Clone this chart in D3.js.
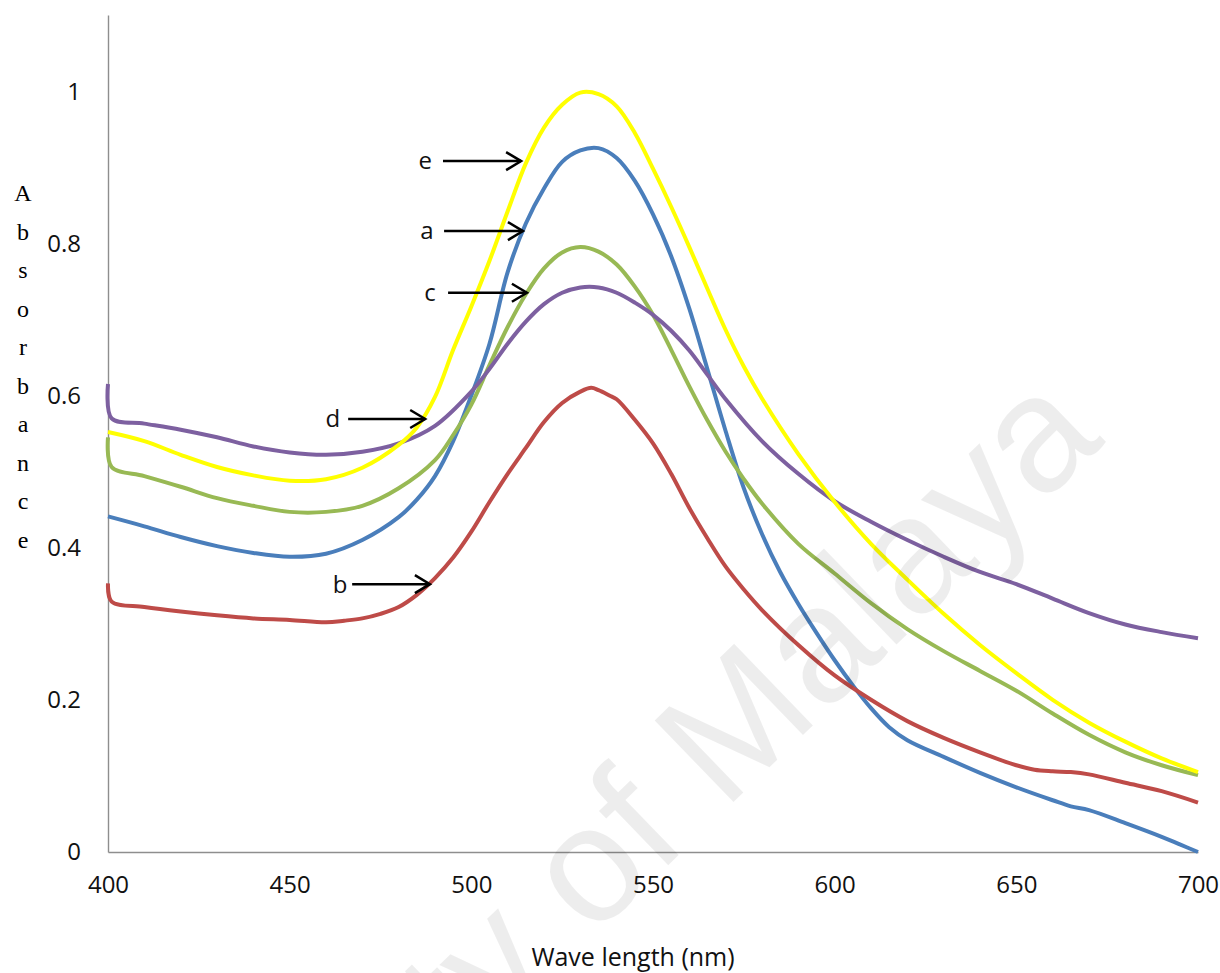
<!DOCTYPE html>
<html>
<head>
<meta charset="utf-8">
<script src="https://cdn.jsdelivr.net/npm/d3@7"></script>
<style>
  body { margin: 0; background: #fff; }
</style>
</head>
<body>
<div id="chart"></div>
<script>
// absorbance spectra
const seriesNames = ["a", "b", "c", "d", "e"];
const seriesColors = ["#4a7ebb", "#be4b48", "#98b954", "#7d60a0", "#ffff00"];

const wlA = [400, 410, 420, 430, 440, 450, 460, 470, 480, 485, 490, 495, 500, 505, 510, 515, 520, 525, 530, 535, 540, 545, 550, 555, 560, 565, 570, 575, 580, 585, 590, 595, 600, 605, 610, 615, 620, 630, 640, 650, 660, 665, 670, 680, 690, 695, 700];
const absA = [0.441, 0.428, 0.414, 0.402, 0.393, 0.388, 0.392, 0.410, 0.440, 0.463, 0.494, 0.540, 0.600, 0.668, 0.762, 0.826, 0.872, 0.907, 0.922, 0.925, 0.912, 0.882, 0.838, 0.783, 0.714, 0.634, 0.553, 0.478, 0.418, 0.368, 0.326, 0.288, 0.252, 0.219, 0.189, 0.164, 0.147, 0.125, 0.104, 0.085, 0.068, 0.060, 0.055, 0.038, 0.020, 0.010, 0.000];

const wlB = [400, 401, 410, 420, 430, 440, 450, 460, 465, 470, 475, 480, 485, 490, 495, 500, 505, 510, 515, 520, 525, 530, 533, 535, 538, 540, 545, 550, 555, 560, 565, 570, 575, 580, 590, 600, 610, 620, 630, 640, 650, 655, 660, 665, 670, 680, 690, 700];
const absB = [0.353, 0.329, 0.322, 0.316, 0.311, 0.307, 0.305, 0.302, 0.304, 0.307, 0.313, 0.322, 0.338, 0.360, 0.387, 0.421, 0.460, 0.497, 0.531, 0.565, 0.590, 0.605, 0.610, 0.607, 0.600, 0.595, 0.568, 0.537, 0.497, 0.452, 0.412, 0.375, 0.345, 0.318, 0.272, 0.232, 0.200, 0.172, 0.150, 0.131, 0.114, 0.108, 0.106, 0.105, 0.102, 0.091, 0.080, 0.065];

const wlC = [400, 401, 410, 420, 430, 440, 450, 460, 470, 480, 490, 495, 500, 505, 510, 515, 520, 525, 530, 535, 540, 545, 550, 555, 560, 565, 570, 575, 580, 590, 600, 610, 620, 630, 640, 650, 660, 670, 680, 690, 700];
const absC = [0.545, 0.506, 0.494, 0.480, 0.465, 0.455, 0.447, 0.447, 0.455, 0.478, 0.515, 0.548, 0.588, 0.640, 0.690, 0.733, 0.767, 0.788, 0.795, 0.789, 0.772, 0.743, 0.706, 0.660, 0.612, 0.567, 0.526, 0.490, 0.458, 0.405, 0.366, 0.327, 0.293, 0.264, 0.238, 0.212, 0.182, 0.154, 0.131, 0.114, 0.101];

const wlD = [400, 401, 410, 420, 430, 440, 450, 460, 470, 480, 490, 500, 505, 510, 515, 520, 525, 530, 535, 540, 545, 550, 555, 560, 565, 570, 580, 590, 600, 610, 620, 630, 640, 650, 660, 670, 680, 690, 700];
const absD = [0.615, 0.570, 0.563, 0.555, 0.545, 0.533, 0.525, 0.522, 0.526, 0.537, 0.560, 0.605, 0.635, 0.668, 0.697, 0.720, 0.735, 0.742, 0.742, 0.735, 0.722, 0.706, 0.685, 0.659, 0.627, 0.595, 0.540, 0.497, 0.461, 0.434, 0.410, 0.388, 0.368, 0.352, 0.333, 0.314, 0.299, 0.289, 0.281];

const wlE = [400, 410, 420, 430, 440, 450, 460, 470, 480, 485, 490, 495, 500, 505, 510, 515, 520, 525, 530, 535, 540, 545, 550, 555, 560, 565, 570, 575, 580, 590, 600, 610, 620, 630, 640, 650, 660, 670, 680, 690, 700];
const absE = [0.552, 0.540, 0.522, 0.506, 0.495, 0.488, 0.490, 0.505, 0.535, 0.558, 0.598, 0.660, 0.717, 0.777, 0.842, 0.905, 0.952, 0.982, 0.998, 0.996, 0.980, 0.945, 0.898, 0.848, 0.795, 0.740, 0.686, 0.638, 0.596, 0.523, 0.460, 0.405, 0.358, 0.313, 0.272, 0.235, 0.200, 0.170, 0.145, 0.123, 0.105];

const yTicks = [0, 0.2, 0.4, 0.6, 0.8, 1];
const xTicks = [400, 450, 500, 550, 600, 650, 700];

// arrow labels: name, label x, arrow start, arrow tip (nm), level (absorbance)
const noteNames = ["e", "a", "c", "d", "b"];
const noteLabelWl = [487.3, 487.8, 488.6, 461.9, 463.9];
const noteFromWl = [492.2, 492.5, 493.6, 466.1, 467.2];
const noteToWl = [513.7, 514.2, 515.3, 487.3, 488.6];
const noteLevel = [0.908, 0.816, 0.735, 0.569, 0.352];

const yTitle = "Absorbance".split("");

const sans = "'Open Sans', 'Liberation Sans', sans-serif";
const width = 1220, height = 973;
const svg = d3.select("#chart").append("svg")
    .attr("width", width).attr("height", height);

const x = d3.scaleLinear().domain([400, 700]).range([108, 1198]);
const y = d3.scaleLinear().domain([0, 1.1]).range([852, 15]);

// axes
const yAxis = svg.append("g")
    .attr("transform", `translate(${x(400)},0)`)
    .call(d3.axisLeft(y).tickValues(yTicks).tickSize(0).tickPadding(27)
        .tickFormat(d => d === 0 || d === 1 ? d : d3.format(".1f")(d)));
const xAxis = svg.append("g")
    .attr("transform", `translate(0,${y(0)})`)
    .call(d3.axisBottom(x).tickValues(xTicks).tickSize(0).tickPadding(24));

[yAxis, xAxis].forEach(g => {
    g.select(".domain").attr("stroke", "#8e8e8e").attr("stroke-width", 1.4);
    g.selectAll("text").attr("font-size", 24).attr("fill", "#111")
        .attr("font-family", sans);
});
yAxis.selectAll("text").attr("dy", "0.33em");

// curves
const allWl = [wlA, wlB, wlC, wlD, wlE];
const allAbs = [absA, absB, absC, absD, absE];
const line = d3.line()
    .x(d => x(d[0])).y(d => y(d[1]))
    .curve(d3.curveCatmullRom.alpha(0.5));

seriesNames.forEach((name, i) => {
    const pts = allWl[i].map((w, j) => [w, allAbs[i][j]]);
    svg.append("path")
        .datum(pts)
        .attr("class", "series-" + name)
        .attr("fill", "none")
        .attr("stroke", seriesColors[i])
        .attr("stroke-width", 4)
        .attr("stroke-linejoin", "round")
        .attr("d", line);
});

// arrows + letters
const notes = svg.append("g");
noteNames.forEach((n, i) => {
    const yy = y(noteLevel[i]);
    const x0 = x(noteFromWl[i]), x1 = x(noteToWl[i]);
    notes.append("line")
        .attr("x1", x0).attr("x2", x1).attr("y1", yy).attr("y2", yy)
        .attr("stroke", "#000").attr("stroke-width", 2.5);
    notes.append("path")
        .attr("d", `M${x1 - 15},${yy - 9}L${x1},${yy}L${x1 - 15},${yy + 9}`)
        .attr("fill", "none").attr("stroke", "#000").attr("stroke-width", 2.5);
    notes.append("text")
        .attr("x", x(noteLabelWl[i])).attr("y", yy)
        .attr("dy", "0.35em")
        .attr("text-anchor", "middle")
        .attr("font-family", sans)
        .attr("font-size", 24)
        .attr("fill", "#111")
        .text(n);
});

// axis titles
svg.append("text")
    .attr("x", 633).attr("y", 966)
    .attr("text-anchor", "middle")
    .attr("font-family", sans)
    .attr("font-size", 25)
    .attr("fill", "#111")
    .text("Wave length (nm)");

svg.append("g").selectAll("text")
    .data(yTitle)
    .join("text")
    .attr("x", 23)
    .attr("y", (d, i) => 201 + i * 38.5)
    .attr("text-anchor", "middle")
    .attr("font-family", "'Liberation Serif', 'Times New Roman', serif")
    .attr("font-size", 24)
    .attr("fill", "#000")
    .text(d => d);

// watermark
svg.append("text")
    .attr("transform", "translate(572,958) rotate(-44)")
    .attr("text-anchor", "middle")
    .attr("font-family", "'Liberation Sans', sans-serif")
    .attr("font-size", 165)
    .attr("fill", "#000")
    .attr("fill-opacity", 0.07)
    .text("University of Malaya");
</script>
</body>
</html>
